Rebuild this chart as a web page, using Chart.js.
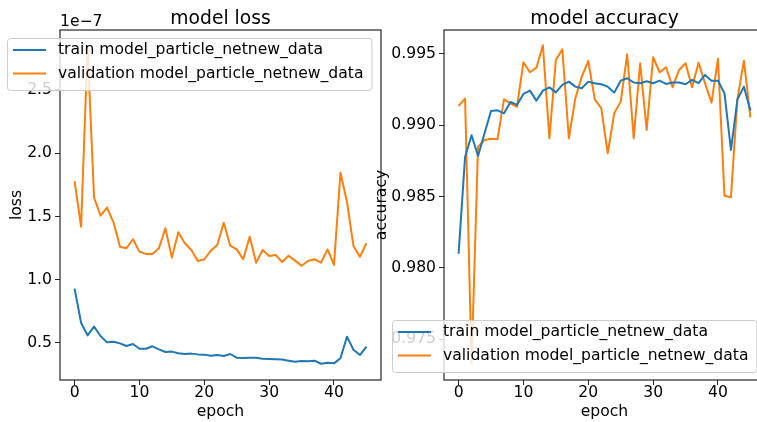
<!DOCTYPE html>
<html>
<head>
<meta charset="utf-8">
<script src="https://cdn.jsdelivr.net/npm/chart.js@4.4.1/dist/chart.umd.min.js"></script>
<style>
    html, body { margin: 0; padding: 0; background: #fff; overflow: hidden; }
    #fig { position: relative; width: 757px; height: 422px; overflow: hidden; }
    #lossChart { position: absolute; left: 0; top: 0; }
    #accChart { position: absolute; left: 360px; top: 0; }
</style>
</head>
<body>
<div id="fig">
    <canvas id="lossChart" width="400" height="422"></canvas>
    <canvas id="accChart" width="420" height="422"></canvas>
</div>
<script>
// Datos
const epochs = [0, 1, 2, 3, 4, 5, 6, 7, 8, 9, 10, 11, 12, 13, 14, 15, 16, 17, 18, 19, 20, 21, 22,
    23, 24, 25, 26, 27, 28, 29, 30, 31, 32, 33, 34, 35, 36, 37, 38, 39, 40, 41, 42, 43, 44, 45];

const seriesLabels = ['train model_particle_netnew_data', 'validation model_particle_netnew_data'];

// pérdida en unidades de 1e-7
const trainLoss = [0.93, 0.66, 0.56, 0.63, 0.555, 0.505, 0.51, 0.497, 0.476, 0.492,
    0.455, 0.455, 0.474, 0.45, 0.429, 0.432, 0.419, 0.413, 0.416, 0.41,
    0.408, 0.40, 0.405, 0.397, 0.413, 0.384, 0.382, 0.384, 0.384, 0.376,
    0.374, 0.371, 0.369, 0.36, 0.352, 0.357, 0.355, 0.36, 0.336, 0.344,
    0.339, 0.379, 0.55, 0.447, 0.405, 0.471];
const valLoss = [1.78, 1.42, 2.84, 1.65, 1.506, 1.57, 1.454, 1.261, 1.249, 1.32,
    1.222, 1.204, 1.204, 1.249, 1.407, 1.176, 1.375, 1.288, 1.235, 1.148,
    1.162, 1.23, 1.275, 1.451, 1.269, 1.24, 1.162, 1.34, 1.135, 1.235,
    1.188, 1.196, 1.14, 1.19, 1.151, 1.111, 1.148, 1.162, 1.135, 1.24,
    1.117, 1.846, 1.617, 1.267, 1.182, 1.288];

const trainAcc = [0.9810, 0.9878, 0.9893, 0.98785, 0.98944, 0.9910, 0.99105, 0.99084, 0.99164, 0.99143,
    0.9922, 0.99243, 0.99173, 0.99243, 0.99266, 0.99231, 0.99283, 0.99306, 0.99271, 0.9926,
    0.99306, 0.99295, 0.99288, 0.99271, 0.99229, 0.99313, 0.9933, 0.993, 0.99295, 0.99309,
    0.99295, 0.99313, 0.9929, 0.993, 0.993, 0.99288, 0.99318, 0.99295, 0.99353, 0.99313,
    0.99313, 0.99225, 0.98827, 0.99182, 0.99271, 0.99103];
const valAcc = [0.99136, 0.99187, 0.97334, 0.9885, 0.98897, 0.98906, 0.98903, 0.99182, 0.99154, 0.9913,
    0.99442, 0.99372, 0.99404, 0.99561, 0.98909, 0.99458, 0.99533, 0.98909, 0.99189, 0.99341,
    0.99451, 0.99182, 0.9912, 0.98804, 0.99084, 0.99166, 0.99498, 0.98909, 0.99435, 0.98967,
    0.99477, 0.99372, 0.99407, 0.99267, 0.99388, 0.99435, 0.99267, 0.99439, 0.99295, 0.99159,
    0.99467, 0.98507, 0.98496, 0.99185, 0.99453, 0.99056];

const epochTicks = [0, 10, 20, 30, 40];
const lossTicks = [0.5, 1.0, 1.5, 2.0, 2.5];
const accTicks = [0.975, 0.980, 0.985, 0.990, 0.995];

const colors = ['#1f77b4', '#ff7f0e'];
const FONT = "'DejaVu Sans', sans-serif";
const FS = 15.6;

Chart.defaults.font.family = FONT;
Chart.defaults.font.size = FS;
Chart.defaults.color = '#000';

// Marco, título, texto de offset y leyenda estilo matplotlib
const figureText = {
    id: 'figureText',
    afterDraw(chart, args, opts) {
        const ctx = chart.ctx;
        const a = chart.chartArea;
        ctx.save();

        ctx.strokeStyle = '#262626';
        ctx.lineWidth = 1.2;
        ctx.strokeRect(a.left, a.top, a.right - a.left, a.bottom - a.top);

        ctx.fillStyle = '#000';
        ctx.textBaseline = 'alphabetic';
        ctx.textAlign = 'center';
        ctx.font = (FS * 1.2) + 'px ' + FONT;
        ctx.fillText(opts.title, (a.left + a.right) / 2, 24);

        if (opts.offsetText) {
            ctx.textAlign = 'left';
            ctx.font = FS + 'px ' + FONT;
            ctx.fillText(opts.offsetText, a.left, 26);
        }

        // leyenda
        ctx.font = FS + 'px ' + FONT;
        const datasets = chart.data.datasets;
        let maxW = 0;
        datasets.forEach(ds => { maxW = Math.max(maxW, ctx.measureText(ds.label).width); });
        const lx = opts.legendX, ly = opts.legendY;
        const lw = 51 + maxW + 8, lh = 52;
        ctx.beginPath();
        if (ctx.roundRect) ctx.roundRect(lx + 0.5, ly + 0.5, lw, lh, 3);
        else ctx.rect(lx + 0.5, ly + 0.5, lw, lh);
        ctx.fillStyle = 'rgba(255,255,255,0.8)';
        ctx.fill();
        ctx.strokeStyle = '#cccccc';
        ctx.lineWidth = 1;
        ctx.stroke();

        datasets.forEach((ds, i) => {
            const y = ly + 12 + i * 23.5;
            ctx.strokeStyle = ds.borderColor;
            ctx.lineWidth = 2;
            ctx.beginPath();
            ctx.moveTo(lx + 6, y);
            ctx.lineTo(lx + 39, y);
            ctx.stroke();
            ctx.fillStyle = '#000';
            ctx.textAlign = 'left';
            ctx.textBaseline = 'middle';
            ctx.fillText(ds.label, lx + 51, y);
        });
        ctx.restore();
    }
};

function xAxis() {
    return {
        type: 'linear',
        min: -2.25,
        max: 47.25,
        afterBuildTicks: s => { s.ticks = epochTicks.map(v => ({ value: v })); },
        afterFit: s => { s.height = 42; },
        ticks: { autoSkip: false, maxRotation: 0, padding: 0, font: { size: FS, lineHeight: 1 }, callback: v => String(v) },
        grid: { drawOnChartArea: false, drawTicks: true, tickLength: 5, color: '#262626' },
        border: { display: false },
        title: { display: true, text: 'epoch', padding: { top: 0, bottom: 1 }, font: { size: FS } }
    };
}

function yAxis(min, max, tickValues, decimals, width, label, titlePad) {
    return {
        type: 'linear',
        min: min,
        max: max,
        afterBuildTicks: s => { s.ticks = tickValues.map(v => ({ value: v })); },
        afterFit: s => { s.width = width; },
        ticks: { autoSkip: false, padding: 3, font: { size: FS, lineHeight: 1 }, callback: v => v.toFixed(decimals) },
        grid: { drawOnChartArea: false, drawTicks: true, tickLength: 5, color: '#262626' },
        border: { display: false },
        title: { display: true, text: label, padding: { top: titlePad, bottom: 0 }, font: { size: FS } }
    };
}

function makeDatasets(a, b) {
    return [a, b].map((vals, i) => ({
        label: seriesLabels[i],
        data: epochs.map((e, j) => ({ x: e, y: vals[j] })),
        borderColor: colors[i],
        backgroundColor: colors[i],
        borderWidth: 2,
        borderJoinStyle: 'round',
        pointRadius: 0,
        tension: 0,
        fill: false
    }));
}

function baseOptions(padRight) {
    return {
        responsive: false,
        animation: false,
        devicePixelRatio: 1,
        layout: { padding: { left: 0, right: padRight, top: 30, bottom: 0 } },
        plugins: { legend: { display: false }, tooltip: { enabled: false } }
    };
}

const lossOpts = baseOptions(19);
lossOpts.plugins.figureText = { title: 'model loss', offsetText: '1e\u22127', legendX: 7, legendY: 38 };
lossOpts.scales = { x: xAxis(), y: yAxis(0.2075, 2.974, lossTicks, 1, 60, 'loss', 7.9) };

new Chart(document.getElementById('lossChart'), {
    type: 'line',
    data: { datasets: makeDatasets(trainLoss, valLoss) },
    options: lossOpts,
    plugins: [figureText]
});

const accOpts = baseOptions(15);
accOpts.plugins.figureText = { title: 'model accuracy', offsetText: null, legendX: 32, legendY: 320 };
accOpts.scales = { x: xAxis(), y: yAxis(0.97215, 0.99668, accTicks, 3, 84, 'accuracy', 12.2) };

new Chart(document.getElementById('accChart'), {
    type: 'line',
    data: { datasets: makeDatasets(trainAcc, valAcc) },
    options: accOpts,
    plugins: [figureText]
});
</script>
</body>
</html>
